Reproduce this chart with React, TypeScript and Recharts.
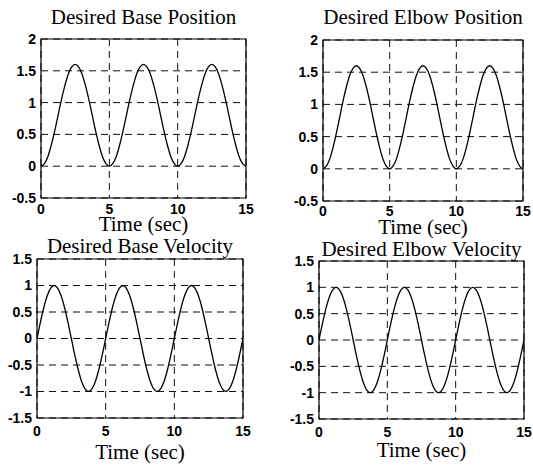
import React from "react";
import { CartesianGrid, Line, LineChart, ReferenceArea, XAxis, YAxis } from "recharts";

const time = [
  0, 0.25, 0.5, 0.75, 1, 1.25, 1.5, 1.75, 2, 2.25, 2.5, 2.75, 3, 3.25, 3.5, 3.75, 4, 4.25, 4.5, 4.75,
  5, 5.25, 5.5, 5.75, 6, 6.25, 6.5, 6.75, 7, 7.25, 7.5, 7.75, 8, 8.25, 8.5, 8.75, 9, 9.25, 9.5, 9.75,
  10, 10.25, 10.5, 10.75, 11, 11.25, 11.5, 11.75, 12, 12.25, 12.5, 12.75, 13, 13.25, 13.5, 13.75, 14, 14.25, 14.5, 14.75,
  15
];

const basePosition = [
  0, 0.04, 0.15, 0.33, 0.55, 0.8, 1.05, 1.27, 1.45, 1.56, 1.6, 1.56, 1.45, 1.27, 1.05, 0.8, 0.55, 0.33, 0.15, 0.04,
  0, 0.04, 0.15, 0.33, 0.55, 0.8, 1.05, 1.27, 1.45, 1.56, 1.6, 1.56, 1.45, 1.27, 1.05, 0.8, 0.55, 0.33, 0.15, 0.04,
  0, 0.04, 0.15, 0.33, 0.55, 0.8, 1.05, 1.27, 1.45, 1.56, 1.6, 1.56, 1.45, 1.27, 1.05, 0.8, 0.55, 0.33, 0.15, 0.04,
  0
];

const elbowPosition = [
  0, 0.04, 0.15, 0.33, 0.55, 0.8, 1.05, 1.27, 1.45, 1.56, 1.6, 1.56, 1.45, 1.27, 1.05, 0.8, 0.55, 0.33, 0.15, 0.04,
  0, 0.04, 0.15, 0.33, 0.55, 0.8, 1.05, 1.27, 1.45, 1.56, 1.6, 1.56, 1.45, 1.27, 1.05, 0.8, 0.55, 0.33, 0.15, 0.04,
  0, 0.04, 0.15, 0.33, 0.55, 0.8, 1.05, 1.27, 1.45, 1.56, 1.6, 1.56, 1.45, 1.27, 1.05, 0.8, 0.55, 0.33, 0.15, 0.04,
  0
];

const baseVelocity = [
  0, 0.31, 0.59, 0.81, 0.95, 1, 0.95, 0.81, 0.59, 0.31, 0, -0.31, -0.59, -0.81, -0.95, -1, -0.95, -0.81, -0.59, -0.31,
  0, 0.31, 0.59, 0.81, 0.95, 1, 0.95, 0.81, 0.59, 0.31, 0, -0.31, -0.59, -0.81, -0.95, -1, -0.95, -0.81, -0.59, -0.31,
  0, 0.31, 0.59, 0.81, 0.95, 1, 0.95, 0.81, 0.59, 0.31, 0, -0.31, -0.59, -0.81, -0.95, -1, -0.95, -0.81, -0.59, -0.31,
  0
];

const elbowVelocity = [
  0, 0.31, 0.59, 0.81, 0.95, 1, 0.95, 0.81, 0.59, 0.31, 0, -0.31, -0.59, -0.81, -0.95, -1, -0.95, -0.81, -0.59, -0.31,
  0, 0.31, 0.59, 0.81, 0.95, 1, 0.95, 0.81, 0.59, 0.31, 0, -0.31, -0.59, -0.81, -0.95, -1, -0.95, -0.81, -0.59, -0.31,
  0, 0.31, 0.59, 0.81, 0.95, 1, 0.95, 0.81, 0.59, 0.31, 0, -0.31, -0.59, -0.81, -0.95, -1, -0.95, -0.81, -0.59, -0.31,
  0
];

const timeTicks = [0, 5, 10, 15];
const positionTicks = [-0.5, 0, 0.5, 1, 1.5, 2];
const velocityTicks = [-1.5, -1, -0.5, 0, 0.5, 1, 1.5];

const titles = [
  "Desired Base Position",
  "Desired Elbow Position",
  "Desired Base Velocity",
  "Desired Elbow Velocity"
];
const xLabel = "Time (sec)";

const serif = "'Liberation Serif', 'Times New Roman', serif";
const sans = "'Liberation Sans', Arial, sans-serif";

const Y_W = 36;
const M_TOP = 10;
const M_RIGHT = 12;
const X_H = 26;

type PanelProps = {
  values: number[];
  ticks: number[];
  box: { x: number; y: number; w: number; h: number };
  title: string;
  titleTop: number;
  labelTop: number;
  xTickGap: number;
};

function Panel({ values, ticks, box, title, titleTop, labelTop, xTickGap }: PanelProps) {
  const data = time.map((t, i) => ({ t, v: values[i] }));
  const lo = ticks[0];
  const hi = ticks[ticks.length - 1];
  const tickStyle = { fill: "#000", fontSize: 14, fontWeight: 700, fontFamily: sans };

  return (
    <>
      <div
        style={{
          position: "absolute",
          left: box.x - 60,
          width: box.w + 120,
          top: titleTop,
          textAlign: "center",
          fontFamily: serif,
          fontSize: 21,
          lineHeight: "21px",
          whiteSpace: "nowrap"
        }}
      >
        {title}
      </div>
      <div style={{ position: "absolute", left: box.x - Y_W, top: box.y - M_TOP }}>
        <LineChart
          width={Y_W + box.w + M_RIGHT}
          height={M_TOP + box.h + X_H}
          data={data}
          margin={{ top: M_TOP, right: M_RIGHT, left: 0, bottom: 0 }}
        >
          <CartesianGrid stroke="#111" strokeDasharray="7 5" verticalPoints={undefined} />
          <XAxis
            dataKey="t"
            type="number"
            domain={[0, 15]}
            ticks={timeTicks}
            height={X_H}
            axisLine={false}
            tickLine={false}
            tickSize={0}
            tickMargin={xTickGap}
            tick={tickStyle}
            allowDataOverflow
          />
          <YAxis
            type="number"
            domain={[lo, hi]}
            ticks={ticks}
            width={Y_W}
            axisLine={false}
            tickLine={false}
            tickSize={0}
            tickMargin={5}
            tick={tickStyle}
            interval={0}
            allowDataOverflow
          />
          <ReferenceArea x1={0} x2={15} y1={lo} y2={hi} fill="none" stroke="#000" strokeWidth={1.2} />
          <Line
            type="monotone"
            dataKey="v"
            stroke="#000"
            strokeWidth={1.3}
            dot={false}
            isAnimationActive={false}
          />
        </LineChart>
      </div>
      <div
        style={{
          position: "absolute",
          left: box.x,
          width: box.w,
          top: labelTop,
          textAlign: "center",
          fontFamily: serif,
          fontSize: 21,
          lineHeight: "21px",
          whiteSpace: "nowrap"
        }}
      >
        {xLabel}
      </div>
    </>
  );
}

export default function App() {
  return (
    <div
      style={{
        position: "absolute",
        left: 0,
        top: 0,
        width: 533,
        height: 468,
        overflow: "hidden",
        background: "#fff"
      }}
    >
      <Panel
        values={basePosition}
        ticks={positionTicks}
        box={{ x: 41, y: 39, w: 205, h: 159 }}
        title={titles[0]}
        titleTop={7}
        labelTop={214}
        xTickGap={6}
      />
      <Panel
        values={elbowPosition}
        ticks={positionTicks}
        box={{ x: 323, y: 40, w: 200, h: 161 }}
        title={titles[1]}
        titleTop={7}
        labelTop={217}
        xTickGap={5}
      />
      <Panel
        values={baseVelocity}
        ticks={velocityTicks}
        box={{ x: 37, y: 259, w: 206, h: 159 }}
        title={titles[2]}
        titleTop={236}
        labelTop={442}
        xTickGap={8}
      />
      <Panel
        values={elbowVelocity}
        ticks={velocityTicks}
        box={{ x: 319, y: 261, w: 205, h: 158 }}
        title={titles[3]}
        titleTop={239}
        labelTop={440}
        xTickGap={8}
      />
    </div>
  );
}
